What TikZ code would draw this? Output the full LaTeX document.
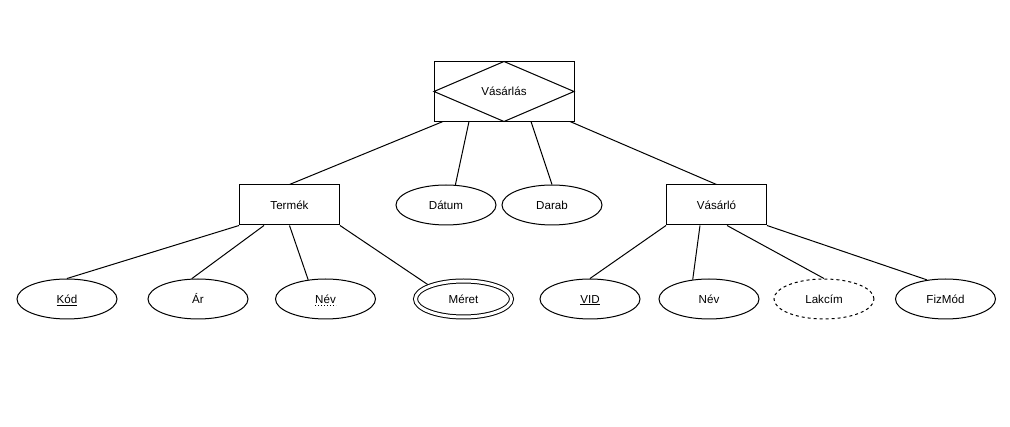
\documentclass[tikz,border=0pt]{standalone}
\usepackage{fontspec}
\setmainfont{Liberation Sans}
\usepackage{tikz}
\usetikzlibrary{shapes.geometric}

\begin{document}
\begin{tikzpicture}[x=1pt,y=-1pt,line width=1pt,
        every node/.style={font=\fontsize{11.6}{14}\selectfont},
        entity/.style={draw,rectangle,minimum width=100pt,minimum height=40pt},
        attr/.style={draw,ellipse,minimum width=100pt,minimum height=40pt,text height=8.5pt,text depth=0pt},
        multi/.style={attr,double,double distance=3pt,minimum width=96pt,minimum height=36pt,outer sep=2.5pt},
        derived/.style={attr,dash pattern=on 3pt off 3pt}]
        \useasboundingbox (0,0) rectangle (1010,427);
        % relationship
        \node[draw,rectangle,outer sep=0pt,minimum width=140pt,minimum height=60pt](vas) at (504,91.5) {V\'as\'arl\'as};
        \draw (vas.north)--(vas.east)--(vas.south)--(vas.west)--cycle;
        % entities
        \node[entity](termek) at (289.5,205) {Term\'ek};
        \node[entity](vasarlo) at (716.5,205) {V\'as\'arl\'o};
        \node[attr](datum) at (446,205) {D\'atum};
        \node[attr](darab) at (552,205) {Darab};
        % attributes
        \node[attr](kod) at (67,299) {\underline{K\'od}};
        \node[attr](ar) at (198,299) {\'Ar};
        \node[attr](nev) at (325.5,299) {N\'ev};
        \node[multi](meret) at (463.5,299) {M\'eret};
        \node[attr](vid) at (590,299) {\underline{VID}};
        \node[attr](nev2) at (709,299) {N\'ev};
        \node[derived](lakcim) at (824,299) {Lakc\'im};
        \node[attr](fizmod) at (945.5,299) {FizM\'od};
        \draw[dotted] ([xshift=-10.5pt,yshift=-6.5pt]nev.center)--([xshift=10.5pt,yshift=-6.5pt]nev.center);
        \draw(termek.north)--([xshift=9pt]vas.south west);
        \draw(datum.65)--([xshift=35pt]vas.south west);
        \draw(darab.north)--([xshift=-43pt]vas.south east);
        \draw(vasarlo.north)--([xshift=-4pt]vas.south east);
        \draw(termek.south west)--(kod.north);
        \draw([xshift=25pt]termek.south west)--(ar.107);
        \draw(termek.south)--(nev.132);
        \draw(termek.south east)--(meret.158);
        \draw(vasarlo.south west)--(vid.north);
        \draw([xshift=34pt]vasarlo.south west)--(nev2.130);
        \draw([xshift=61pt]vasarlo.south west)--(lakcim.north);
        \draw(vasarlo.south east)--(fizmod.134);
        \end{tikzpicture}
\end{document}
